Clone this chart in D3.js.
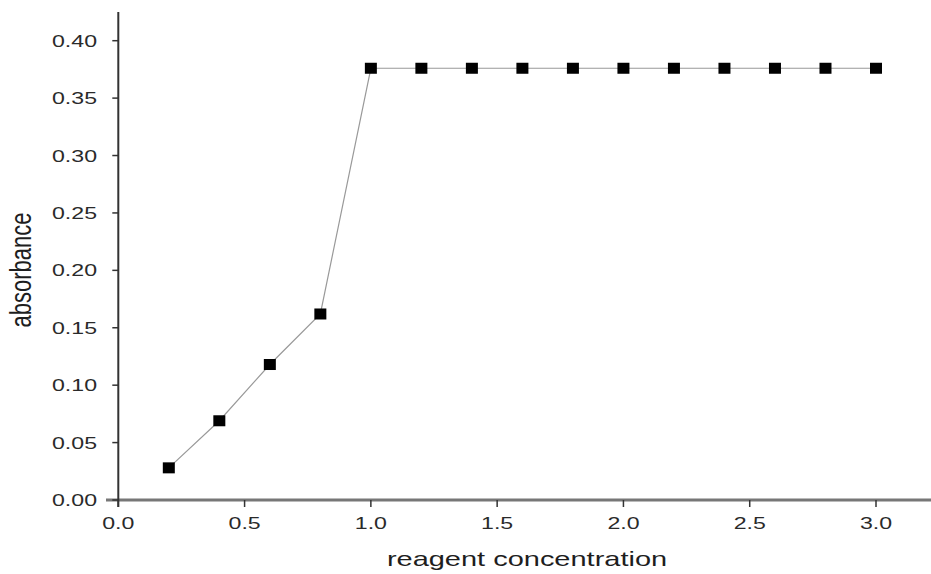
<!DOCTYPE html>
<html>
<head>
<meta charset="utf-8">
<script src="https://cdn.jsdelivr.net/npm/d3@7"></script>
<style>
  body { margin: 0; background: #fff; }
  text { font-family: "Liberation Sans", Arial, sans-serif; }
</style>
</head>
<body>
<div id="chart"></div>
<script>
const concentration = [0.2, 0.4, 0.6, 0.8, 1.0, 1.2, 1.4, 1.6, 1.8, 2.0, 2.2, 2.4, 2.6, 2.8, 3.0];
const absorbance = [0.028, 0.069, 0.118, 0.162, 0.376, 0.376, 0.376, 0.376, 0.376, 0.376, 0.376, 0.376, 0.376, 0.376, 0.376];
const xTicks = [0.0, 0.5, 1.0, 1.5, 2.0, 2.5, 3.0];
const yTicks = [0.00, 0.05, 0.10, 0.15, 0.20, 0.25, 0.30, 0.35, 0.40];

const width = 931, height = 574;
// the source picture is stretched sideways, so text gets a horizontal scale
const stretch = 1.36;

const svg = d3.select("#chart").append("svg")
  .attr("width", width).attr("height", height);

const x = d3.scaleLinear().domain([0, 3]).range([118.3, 876]);
const y = d3.scaleLinear().domain([0, 0.4]).range([500, 40.7]);

// axis lines
svg.append("line")
  .attr("x1", 106).attr("x2", width).attr("y1", y(0)).attr("y2", y(0))
  .attr("stroke", "#777").attr("stroke-width", 3);
svg.append("line")
  .attr("x1", x(0)).attr("x2", x(0)).attr("y1", 12).attr("y2", 507)
  .attr("stroke", "#333").attr("stroke-width", 2);

// y ticks
const yg = svg.append("g");
yTicks.forEach(t => {
  yg.append("line")
    .attr("x1", x(0) - 6).attr("x2", x(0)).attr("y1", y(t)).attr("y2", y(t))
    .attr("stroke", "#333").attr("stroke-width", 1.5);
  yg.append("text")
    .attr("transform", `translate(97,${y(t)}) scale(${stretch},1)`)
    .attr("dy", "0.36em")
    .attr("text-anchor", "end").attr("font-size", 17).attr("fill", "#2a2a2a")
    .text(d3.format(".2f")(t));
});

// x ticks
const xg = svg.append("g");
xTicks.forEach(t => {
  xg.append("line")
    .attr("x1", x(t)).attr("x2", x(t)).attr("y1", y(0)).attr("y2", y(0) + 7)
    .attr("stroke", "#333").attr("stroke-width", 1.5);
  xg.append("text")
    .attr("transform", `translate(${x(t)},529) scale(${stretch},1)`)
    .attr("text-anchor", "middle").attr("font-size", 17).attr("fill", "#2a2a2a")
    .text(d3.format(".1f")(t));
});

// labels
svg.append("text")
  .attr("transform", `translate(527,566) scale(1.38,1)`)
  .attr("text-anchor", "middle").attr("font-size", 21).attr("fill", "#1e1e1e")
  .text("reagent concentration");
svg.append("text")
  .attr("transform", `translate(31,270) scale(1.3,1) rotate(-90)`)
  .attr("text-anchor", "middle").attr("font-size", 22).attr("fill", "#1e1e1e")
  .text("absorbance");

const pts = concentration.map((c, i) => ({ c: c, a: absorbance[i] }));

svg.append("path")
  .datum(pts)
  .attr("fill", "none")
  .attr("stroke", "#999")
  .attr("stroke-width", 1.2)
  .attr("d", d3.line().x(d => x(d.c)).y(d => y(d.a)));

svg.selectAll(".pt")
  .data(pts)
  .enter()
  .append("rect")
  .attr("class", "pt")
  .attr("x", d => x(d.c) - 6)
  .attr("y", d => y(d.a) - 5.5)
  .attr("width", 12)
  .attr("height", 11)
  .attr("fill", "#000");
</script>
</body>
</html>
